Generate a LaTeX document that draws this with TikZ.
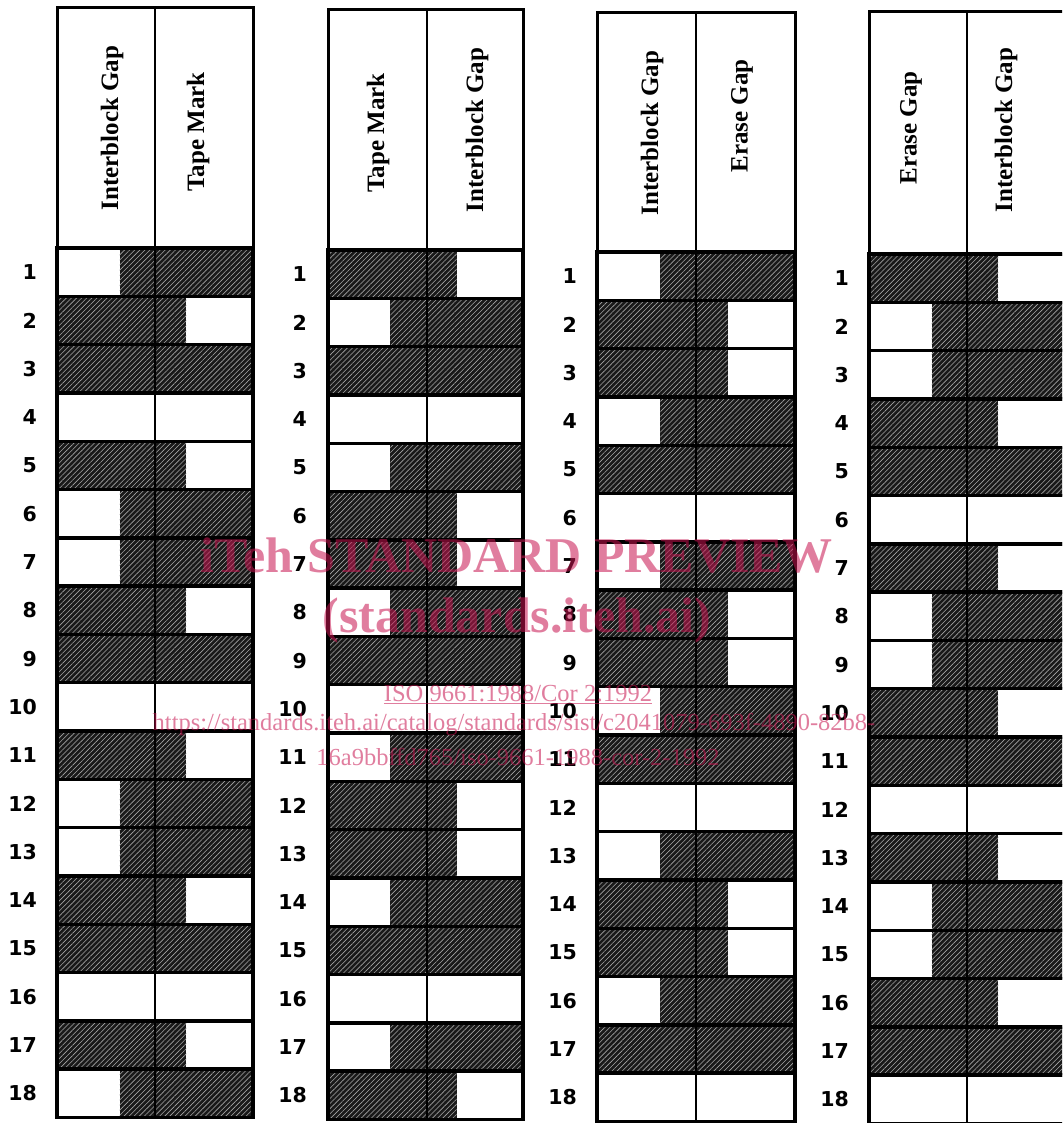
\documentclass[tikz,border=0pt]{standalone}
\usepackage{fontspec}
\setmainfont{Liberation Serif}
\newfontfamily\numfont{DejaVu Sans}
\usetikzlibrary{patterns.meta}
\definecolor{shadecol}{gray}{0.1}
\definecolor{wmpink}{RGB}{200,20,80}
\tikzset{
  shadedcell/.style={fill=shadecol, postaction={pattern={Lines[angle=45,distance=3.6pt,line width=0.6pt]}, pattern color=gray!70}},
  cellbox/.style={draw=black, line width=3.4pt},
  headbox/.style={draw=black, line width=3pt},
  divline/.style={draw=black, line width=2.6pt},
  headtext/.style={rotate=90, font=\fontsize{25}{25}\selectfont\bfseries, inner sep=0pt},
  rownum/.style={font=\numfont\fontsize{20.5}{20.5}\selectfont\bfseries, inner sep=0pt, anchor=east},
  wmbig/.style={text=wmpink, text opacity=0.55, font=\fontsize{50}{50}\selectfont\bfseries, inner sep=0pt, anchor=base},
  wmsmall/.style={text=wmpink, text opacity=0.55, font=\fontsize{24.5}{24.5}\selectfont, inner sep=0pt, anchor=base},
}
% #1 name, #2 L, #3 D, #4 R, #5 T, #6 H, #7 number x (right edge)
\newcommand\drawpanel[7]{%
  \draw[headbox] (#2,#5) rectangle (#4,#6);
  \foreach \s/\e [count=\i] in \curcodes {
    \pgfmathsetmacro\yA{#6+(\i-1)*48.3}
    \pgfmathsetmacro\yB{\yA+48.3}
    \ifdim \e pt > \s pt
      \fill[shadedcell] ({#2+\s*(#4-#2)},\yA) rectangle ({#2+\e*(#4-#2)},\yB);
    \fi
    \draw[cellbox] (#2,\yA) rectangle (#4,\yB);
    \node[rownum] (#1n\i) at (#7,{\yA+24.15}) {\i};
  }
  \draw[divline] (#3,#5) -- (#3,{#6+18*48.3});
}
\begin{document}
\begin{tikzpicture}[x=1pt,y=-1pt]
\useasboundingbox (0,0) rectangle (1062,1123);
\clip (0,0) rectangle (1062,1123);
\fill[white] (0,0) rectangle (1062,1123);
% codes: A = 0.32/1 ; B = 0/0.66 ; F = 0/1 ; W = 0/0
% Panel 1: A B F W B A
\def\curcodes{0.32/1,0/0.66,0/1,0/0,0/0.66,0.32/1,0.32/1,0/0.66,0/1,0/0,0/0.66,0.32/1,0.32/1,0/0.66,0/1,0/0,0/0.66,0.32/1}
\drawpanel{p1}{57}{155}{253}{8}{248}{37}
\node[headtext] (p1ha) at (112,128) {Interblock Gap};
\node[headtext] (p1hb) at (198,132) {Tape Mark};
% Panel 2: B A F W A B
\def\curcodes{0/0.66,0.32/1,0/1,0/0,0.32/1,0/0.66,0/0.66,0.32/1,0/1,0/0,0.32/1,0/0.66,0/0.66,0.32/1,0/1,0/0,0.32/1,0/0.66}
\drawpanel{p2}{328}{427}{523}{10}{250}{307}
\node[headtext] (p2ha) at (378,133) {Tape Mark};
\node[headtext] (p2hb) at (477,130) {Interblock Gap};
% Panel 3: A B B A F W
\def\curcodes{0.32/1,0/0.66,0/0.66,0.32/1,0/1,0/0,0.32/1,0/0.66,0/0.66,0.32/1,0/1,0/0,0.32/1,0/0.66,0/0.66,0.32/1,0/1,0/0}
\drawpanel{p3}{597}{696}{795}{13}{252}{577}
\node[headtext] (p3ha) at (652,133) {Interblock Gap};
\node[headtext] (p3hb) at (742,116) {Erase Gap};
% Panel 4: B A A B F W
\def\curcodes{0/0.66,0.32/1,0.32/1,0/0.66,0/1,0/0,0/0.66,0.32/1,0.32/1,0/0.66,0/1,0/0,0/0.66,0.32/1,0.32/1,0/0.66,0/1,0/0}
\drawpanel{p4}{869}{967}{1065}{12}{254}{849}
\node[headtext] (p4ha) at (911,128) {Erase Gap};
\node[headtext] (p4hb) at (1006,130) {Interblock Gap};
% watermark
\node[wmbig] (wm1) at (517,572) {iTeh\hspace{14pt}STANDARD PREVIEW};
\node[wmbig] (wm2) at (517,632) {(standards.iteh.ai)};
\node[wmsmall] (wm3) at (518,701) {\underline{ISO 9661:1988/Cor 2:1992}};
\node[wmsmall] (wm4) at (514,730) {https://standards.iteh.ai/catalog/standards/sist/c2041079-693f-4890-82b8-};
\node[wmsmall] (wm5) at (518,765) {16a9bbffd765/iso-9661-1988-cor-2-1992};
\end{tikzpicture}
\end{document}
